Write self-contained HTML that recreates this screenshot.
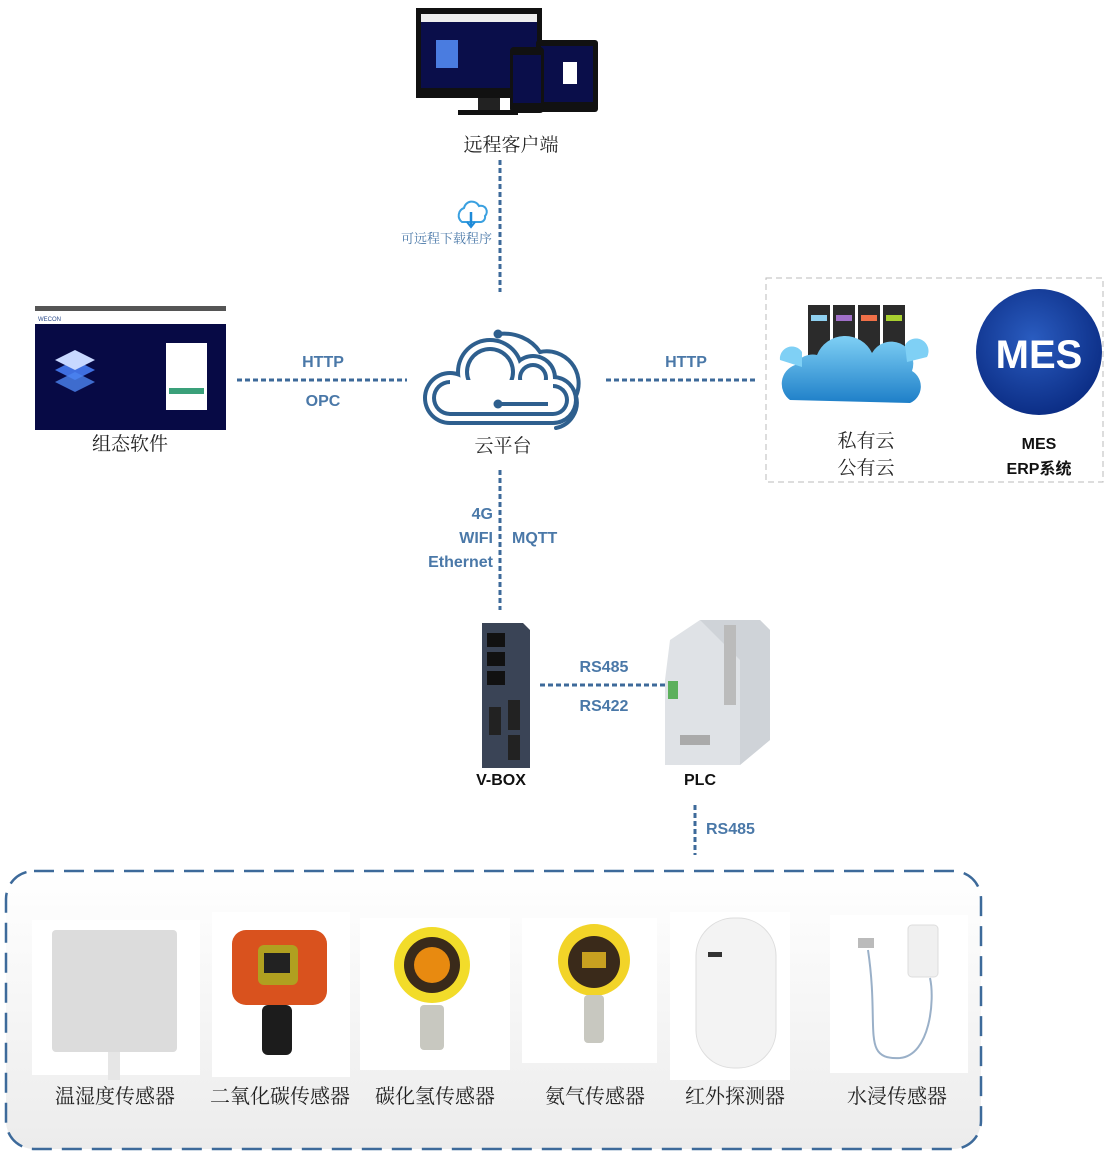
<!DOCTYPE html>
<html><head><meta charset="utf-8"><style>
html,body{margin:0;padding:0;background:#fff;}
svg{display:block;}
.cn{font-family:"Liberation Serif","Noto Serif CJK SC",serif;fill:#222;}
.bl{font-family:"Liberation Sans","Noto Sans CJK SC",sans-serif;font-weight:bold;fill:#4a78a8;font-size:16px;}
.bk{font-family:"Liberation Sans","Noto Sans CJK SC",sans-serif;font-weight:bold;fill:#111;font-size:16px;}
</style></head><body>
<svg width="1105" height="1153" viewBox="0 0 1105 1153" xmlns="http://www.w3.org/2000/svg">
<defs>
<linearGradient id="bg" x1="0" y1="0" x2="0" y2="1"><stop offset="0" stop-color="#fff"/><stop offset="1" stop-color="#ececec"/></linearGradient>
<linearGradient id="cl" x1="0" y1="0" x2="0" y2="1"><stop offset="0" stop-color="#7fd0f5"/><stop offset="1" stop-color="#1e7fc8"/></linearGradient>
<radialGradient id="mes" cx="0.45" cy="0.4" r="0.6"><stop offset="0" stop-color="#2a5cc0"/><stop offset="1" stop-color="#0c2e86"/></radialGradient>
</defs>
<g stroke="#3d6a9a" stroke-width="3" stroke-dasharray="5 3" fill="none">
<line x1="500" y1="160" x2="500" y2="292"/>
<line x1="237" y1="380" x2="407" y2="380"/>
<line x1="606" y1="380" x2="755" y2="380"/>
<line x1="500" y1="470" x2="500" y2="610"/>
<line x1="540" y1="685" x2="665" y2="685"/>
<line x1="695" y1="805" x2="695" y2="855"/>
</g>
<rect x="6" y="871" width="975" height="278" rx="28" fill="url(#bg)" stroke="#3d6a9a" stroke-width="2.5" stroke-dasharray="20 10"/>
<rect x="766" y="278" width="337" height="204" fill="#fff" stroke="#bbb" stroke-width="1" stroke-dasharray="6 4"/>
<rect x="416" y="8" width="126" height="90" fill="#111"/>
<rect x="421" y="14" width="116" height="74" fill="#0a0e4a"/>
<rect x="421" y="14" width="116" height="8" fill="#eee"/>
<rect x="436" y="40" width="22" height="28" fill="#4a7ce0"/>
<rect x="478" y="98" width="22" height="12" fill="#222"/>
<rect x="458" y="110" width="60" height="5" fill="#111"/>
<rect x="536" y="40" width="62" height="72" rx="3" fill="#111"/>
<rect x="541" y="46" width="52" height="56" fill="#0a0e4a"/>
<rect x="510" y="47" width="34" height="66" rx="4" fill="#111"/>
<rect x="513" y="55" width="28" height="48" fill="#0a0e4a"/>
<rect x="563" y="62" width="14" height="22" fill="#fff"/>
<text x="511" y="151" class="cn" font-size="19" text-anchor="middle">远程客户端</text>
<path d="M462 222 a8 8 0 0 1 2 -14 a8 8 0 0 1 15 -2 a6 6 0 0 1 6 10 a5 5 0 0 1 -4 6 z" fill="none" stroke="#3aa0e0" stroke-width="2"/>
<line x1="471" y1="212" x2="471" y2="226" stroke="#1e8ad8" stroke-width="2.5"/>
<path d="M467 222 l4 5 l4 -5" fill="none" stroke="#1e8ad8" stroke-width="2"/>
<text x="492" y="243" font-family="Liberation Serif,'Noto Serif CJK SC',serif" font-size="13" fill="#4a78a8" text-anchor="end">可远程下载程序</text>
<rect x="35" y="306" width="191" height="124" fill="#070a45"/>
<rect x="35" y="306" width="191" height="5" fill="#555"/>
<rect x="35" y="311" width="191" height="13" fill="#fff"/>
<text x="38" y="321" font-size="6" font-family="Liberation Sans" fill="#2a4a8a">WECON</text>
<path d="M55 370 l20 -10 l20 10 l-20 10z" fill="#3f6fe0"/><path d="M55 382 l20 -10 l20 10 l-20 10z" fill="#4c84f0" opacity="0.8"/><path d="M55 360 l20 -10 l20 10 l-20 10z" fill="#c8d8ff"/>
<rect x="166" y="343" width="41" height="67" fill="#fff"/>
<rect x="169" y="388" width="35" height="6" fill="#3aa07a"/>
<text x="130" y="450" class="cn" font-size="19" text-anchor="middle">组态软件</text>
<text x="323" y="367" class="bl" text-anchor="middle">HTTP</text>
<text x="323" y="406" class="bl" text-anchor="middle">OPC</text>
<text x="686" y="367" class="bl" text-anchor="middle">HTTP</text>
<!-- cloud via union layers -->
<path d="M498 334 A42 38 0 0 1 540 352 A32 32 0 0 1 576 396 A26 26 0 0 1 556 428" fill="none" stroke="#2e5f8e" stroke-width="4" stroke-linecap="round"/>
<g fill="#2e5f8e"><circle cx="450" cy="398" r="27"/><circle cx="490" cy="372" r="34"/><circle cx="533" cy="378" r="24"/><circle cx="553" cy="400" r="25"/><rect x="450" y="380" width="103" height="45"/></g>
<g fill="#fff"><circle cx="450" cy="398" r="23"/><circle cx="490" cy="372" r="30"/><circle cx="533" cy="378" r="20"/><circle cx="553" cy="400" r="21"/><rect x="450" y="380" width="103" height="41"/></g>
<g fill="#2e5f8e"><circle cx="450" cy="398" r="18"/><circle cx="490" cy="372" r="25"/><circle cx="533" cy="378" r="15"/><circle cx="553" cy="400" r="16"/><rect x="450" y="380" width="103" height="36"/></g>
<g fill="#fff"><circle cx="450" cy="398" r="14"/><circle cx="490" cy="372" r="21"/><circle cx="533" cy="378" r="11"/><circle cx="553" cy="400" r="12"/><rect x="450" y="380" width="103" height="32"/></g>
<path d="M498 404 H548" stroke="#2e5f8e" stroke-width="4"/>
<circle cx="498" cy="334" r="4.5" fill="#2e5f8e"/><circle cx="498" cy="404" r="4.5" fill="#2e5f8e"/>
<text x="503" y="452" class="cn" font-size="19" text-anchor="middle">云平台</text>
<g>
<rect x="808" y="305" width="22" height="80" fill="#2b2b2b"/><rect x="833" y="305" width="22" height="80" fill="#2b2b2b"/><rect x="858" y="305" width="22" height="80" fill="#2b2b2b"/><rect x="883" y="305" width="22" height="80" fill="#2b2b2b"/>
<rect x="811" y="315" width="16" height="6" fill="#8fd0f0"/><rect x="836" y="315" width="16" height="6" fill="#a070c8"/><rect x="861" y="315" width="16" height="6" fill="#f07048"/><rect x="886" y="315" width="16" height="6" fill="#a8d030"/>
</g>
<path d="M790 400 a20 20 0 0 1 5 -35 a20 20 0 0 1 22 -10 a30 30 0 0 1 55 -2 a22 22 0 0 1 40 18 a18 18 0 0 1 -2 32 z" fill="url(#cl)"/>
<path d="M780 360 a12 12 0 0 1 22 -8 l0 15 z M905 345 a12 12 0 0 1 22 12 l-20 5z" fill="#7fd0f5"/>
<text x="866" y="447" class="cn" font-size="19" text-anchor="middle">私有云</text>
<text x="866" y="474" class="cn" font-size="19" text-anchor="middle">公有云</text>
<circle cx="1039" cy="352" r="63" fill="url(#mes)"/>
<text x="1039" y="368" font-family="Liberation Sans" font-weight="bold" font-size="40" fill="#fff" text-anchor="middle">MES</text>
<text x="1039" y="449" class="bk" text-anchor="middle">MES</text>
<text x="1039" y="474" class="bk" text-anchor="middle">ERP系统</text>
<text x="493" y="519" class="bl" text-anchor="end">4G</text>
<text x="493" y="543" class="bl" text-anchor="end">WIFI</text>
<text x="493" y="567" class="bl" text-anchor="end">Ethernet</text>
<text x="512" y="543" class="bl">MQTT</text>
<path d="M482 623 H523 L530 630 V768 H482 Z" fill="#3a4456"/>
<rect x="487" y="633" width="18" height="14" fill="#111"/><rect x="487" y="652" width="18" height="14" fill="#111"/><rect x="487" y="671" width="18" height="14" fill="#111"/>
<rect x="489" y="707" width="12" height="28" fill="#222"/><rect x="508" y="700" width="12" height="30" fill="#222"/><rect x="508" y="735" width="12" height="25" fill="#222"/>
<text x="501" y="785" class="bk" text-anchor="middle">V-BOX</text>
<text x="604" y="672" class="bl" text-anchor="middle">RS485</text>
<text x="604" y="711" class="bl" text-anchor="middle">RS422</text>
<path d="M670 640 L700 620 H760 L770 630 V740 L740 765 H665 V680 Z" fill="#dfe2e6"/>
<path d="M700 620 H760 L770 630 V740 L740 765 V660Z" fill="#cfd3d8"/>
<rect x="724" y="625" width="12" height="80" fill="#bbb"/>
<rect x="668" y="681" width="10" height="18" fill="#5cb05c"/>
<rect x="680" y="735" width="30" height="10" fill="#aaa"/>
<text x="700" y="785" class="bk" text-anchor="middle">PLC</text>
<text x="706" y="834" class="bl">RS485</text>
<rect x="32" y="920" width="168" height="155" fill="#fff"/>
<rect x="52" y="930" width="125" height="122" rx="4" fill="#dcdcdc"/>
<rect x="108" y="1052" width="12" height="28" fill="#e6e6e6"/>
<rect x="212" y="912" width="138" height="165" fill="#fff"/>
<rect x="232" y="930" width="95" height="75" rx="14" fill="#d9521e"/>
<rect x="258" y="945" width="40" height="40" rx="6" fill="#b0a020"/><rect x="264" y="953" width="26" height="20" fill="#222"/>
<rect x="262" y="1005" width="30" height="50" rx="6" fill="#1c1c1c"/>
<rect x="360" y="918" width="150" height="152" fill="#fff"/>
<circle cx="432" cy="965" r="38" fill="#f2dc2a"/><circle cx="432" cy="965" r="28" fill="#3a2a1a"/><circle cx="432" cy="965" r="18" fill="#e88a10"/>
<rect x="420" y="1005" width="24" height="45" rx="4" fill="#c8c8c0"/>
<rect x="522" y="918" width="135" height="145" fill="#fff"/>
<circle cx="594" cy="960" r="36" fill="#f2d428"/><circle cx="594" cy="962" r="26" fill="#3a2a1a"/><rect x="582" y="952" width="24" height="16" fill="#c8a020"/>
<rect x="584" y="995" width="20" height="48" rx="4" fill="#c8c8c0"/>
<rect x="670" y="912" width="120" height="168" fill="#fff"/>
<rect x="696" y="918" width="80" height="150" rx="38" fill="#f3f3f3" stroke="#ddd"/>
<rect x="708" y="952" width="14" height="5" fill="#333"/>
<rect x="830" y="915" width="138" height="158" fill="#fff"/>
<rect x="908" y="925" width="30" height="52" rx="4" fill="#f0f0f0" stroke="#ddd"/>
<path d="M868 950 C880 1030 860 1060 900 1058 C930 1055 935 1000 930 978" fill="none" stroke="#9ab0c8" stroke-width="2"/>
<rect x="858" y="938" width="16" height="10" fill="#bbb"/>
<g class="cn" font-size="20" text-anchor="middle">
<text x="115" y="1103">温湿度传感器</text>
<text x="280" y="1103">二氧化碳传感器</text>
<text x="435" y="1103">碳化氢传感器</text>
<text x="595" y="1103">氨气传感器</text>
<text x="735" y="1103">红外探测器</text>
<text x="897" y="1103">水浸传感器</text>
</g>
</svg>
</body></html>
